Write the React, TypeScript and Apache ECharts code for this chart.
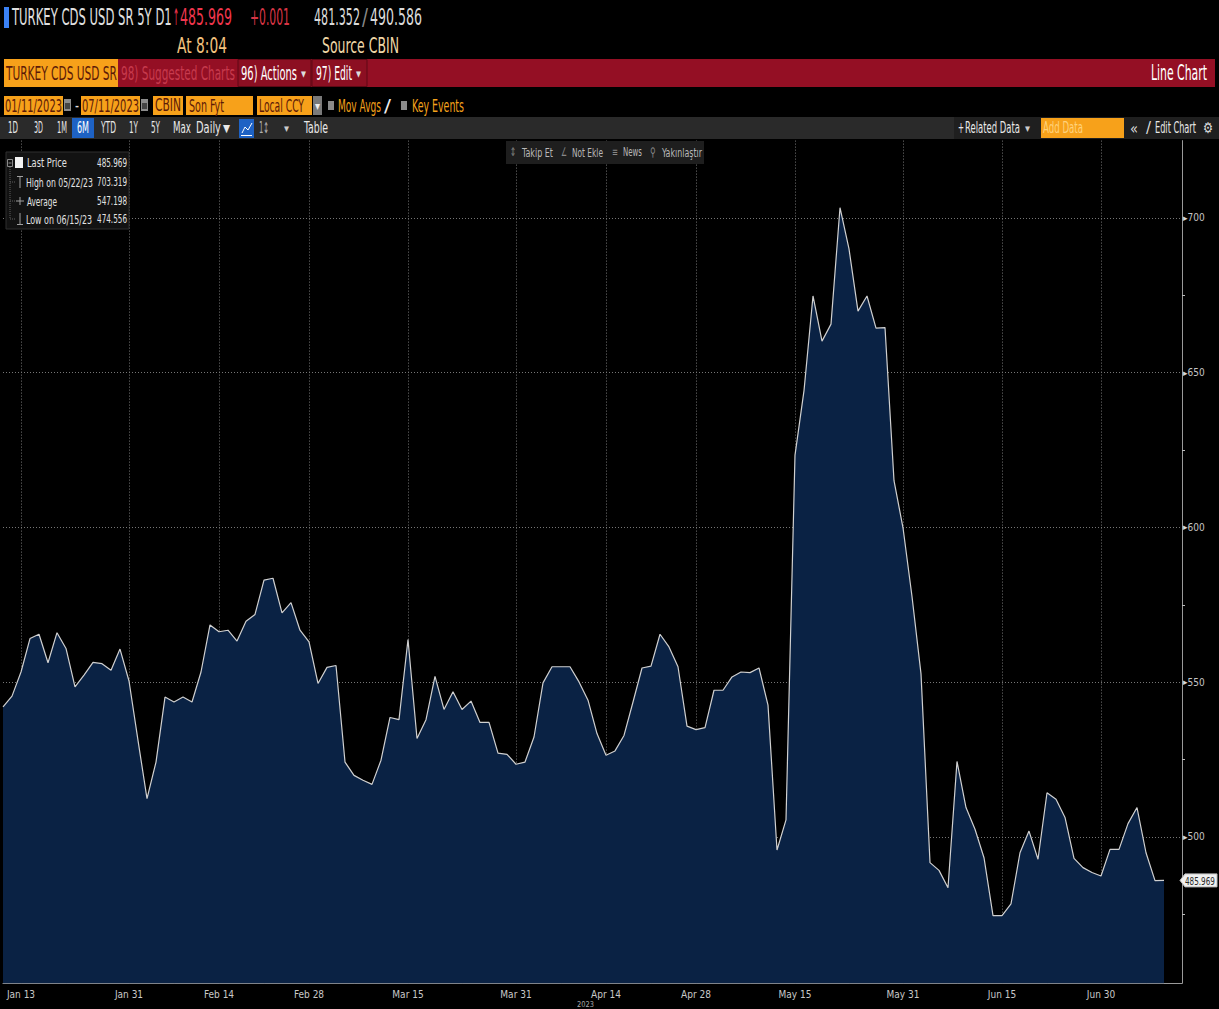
import React, { useEffect, useRef } from 'react';
import * as echarts from 'echarts';

// ---------- data ----------
const firstDate = '2023-01-11';
const lastDate = '2023-07-13'; // two trailing empty business days pad the axis to its right end

// Turkey CDS USD SR 5Y, daily closes (Jan 11 – Jul 11, 2023, business days)
const cdsValues = [
  542.0, 545.5, 553.3, 564.1, 565.5, 556.3, 566.0, 560.9, 548.5, 552.3,
  556.4, 556.0, 553.9, 560.7, 550.4, 531.2, 512.4, 524.2, 545.2, 543.6,
  545.2, 543.6, 553.3, 568.5, 566.3, 566.8, 563.3, 569.7, 571.9, 583.0,
  583.6, 572.4, 575.7, 566.8, 563.0, 549.6, 554.8, 555.4, 524.2, 519.9,
  518.3, 517.0, 524.8, 538.6, 537.9, 563.8, 531.8, 537.9, 551.9, 541.2,
  546.9, 541.2, 543.9, 537.0, 537.0, 527.1, 526.7, 523.5, 524.2, 532.3,
  549.8, 555.0, 555.0, 555.0, 550.1, 544.2, 533.4, 526.4, 527.8, 532.8,
  543.6, 554.6, 555.2, 565.5, 561.4, 555.0, 535.8, 534.7, 535.3, 547.4,
  547.4, 551.7, 553.3, 553.1, 554.6, 542.6, 495.8, 505.5, 623.4, 644.2,
  674.8, 660.2, 665.7, 703.319, 690.0, 669.9, 674.8, 664.4, 664.6, 615.1,
  599.9, 577.7, 552.7, 491.7, 489.2, 483.6, 524.4, 509.5, 502.5, 493.3,
  474.6, 474.556, 478.4, 494.9, 501.9, 492.8, 514.3, 512.2, 506.3, 493.1,
  490.1, 488.5, 487.4, 496.0, 496.0, 504.3, 509.5, 494.9, 485.9, 485.969,
];

const labelDates = [
  '2023-01-13', '2023-01-31', '2023-02-14', '2023-02-28', '2023-03-15', '2023-03-31',
  '2023-04-14', '2023-04-28', '2023-05-15', '2023-05-31', '2023-06-15', '2023-06-30',
];
const minorTickDates = [
  '2023-01-20', '2023-02-07', '2023-02-21', '2023-03-07', '2023-03-23', '2023-04-07',
  '2023-04-21', '2023-05-08', '2023-05-23', '2023-06-08', '2023-06-22', '2023-07-07',
];
const monthNames = ['Jan', 'Feb', 'Mar', 'Apr', 'May', 'Jun', 'Jul', 'Aug', 'Sep', 'Oct', 'Nov', 'Dec'];

const lastPrice = 485.969;
const legendRows = [
  { name: 'Last Price', value: '485.969' },
  { name: 'High on 05/22/23', value: '703.319' },
  { name: 'Average', value: '547.198' },
  { name: 'Low on 06/15/23', value: '474.556' },
];
const yMin = 452.75;
const yMax = 725;

// ---------- helpers ----------
function weekdays(start: string, end: string): string[] {
  const out: string[] = [];
  const d = new Date(start + 'T00:00:00Z');
  const e = new Date(end + 'T00:00:00Z');
  while (d <= e) {
    const w = d.getUTCDay();
    if (w !== 0 && w !== 6) out.push(d.toISOString().slice(0, 10));
    d.setUTCDate(d.getUTCDate() + 1);
  }
  return out;
}

const HF = "'Liberation Sans Narrow', 'DejaVu Sans Condensed', 'Liberation Sans', Arial, sans-serif";
const AF = "'Liberation Sans Narrow', 'DejaVu Sans Condensed', 'Liberation Sans', sans-serif";

let measureCtx: CanvasRenderingContext2D | null = null;
function measure(text: string, font: string): number {
  if (!measureCtx) measureCtx = document.createElement('canvas').getContext('2d');
  if (!measureCtx) return 0;
  measureCtx.font = font;
  return measureCtx.measureText(text).width;
}

function fit(text: string, x: number, y: number, w: number, size: number, color: string, align: string = 'left') {
  const mw = measure(text, `normal ${size}px ${HF}`);
  const sx = mw > 0 ? w / mw : 1;
  return {
    type: 'text', x, y, scaleX: sx, z: 120, silent: true,
    style: {
      text, fill: color, fontSize: size, fontFamily: HF,
      textAlign: align, textVerticalAlign: 'middle', align, verticalAlign: 'middle',
    },
  };
}
function rect(x: number, y: number, w: number, h: number, fill: string, stroke?: string, z = 110) {
  return { type: 'rect', z, silent: true, shape: { x, y, width: w, height: h }, style: { fill, stroke: stroke || null, lineWidth: stroke ? 1 : 0 } };
}
function line(x1: number, y1: number, x2: number, y2: number, stroke: string, dash?: number[]) {
  return { type: 'line', z: 125, silent: true, shape: { x1, y1, x2, y2 }, style: { stroke, lineWidth: 1, lineDash: dash || null } };
}

const ORANGE = '#f7a11a';
const BOXTXT = '#5c1a08';
const WHITE = '#e8e8e8';

function buildGraphics(lastY: number) {
  const g: any[] = [];
  // row 1
  g.push(rect(4, 7, 5, 21, '#3b82f6'));
  g.push(fit('TURKEY CDS USD SR 5Y D1', 12, 17, 160, 23, '#e0e0e0'));
  g.push(fit('↑', 173, 17, 6, 23, '#f0364d'));
  g.push(fit('485.969', 180, 17, 52, 23, '#f0364d'));
  g.push(fit('+0.001', 250, 17, 40, 23, '#d83545'));
  g.push(fit('481.352', 314, 17, 46, 23, '#dadada'));
  g.push(fit('/', 362, 17, 6, 23, '#8a8a8a'));
  g.push(fit('490.586', 370, 17, 52, 23, '#dadada'));
  // row 2
  g.push(fit('At 8:04', 177, 45, 50, 22, '#f2c27e'));
  g.push(fit('Source CBIN', 322, 45, 77, 22, '#efd6a6'));
  // red bar
  g.push(rect(4, 59, 1211, 28, '#940f24'));
  g.push(rect(4, 59, 114, 28, ORANGE));
  g.push(fit('TURKEY CDS USD SR', 6, 73, 111, 20, BOXTXT));
  g.push(fit('98) Suggested Charts', 121, 73, 114, 20, '#c73a4d'));
  g.push(rect(238, 59.5, 73, 27, '#8c0f22', '#5e0915'));
  g.push(rect(312, 59.5, 55, 27, '#8c0f22', '#5e0915'));
  g.push(fit('96) Actions', 241, 73, 56, 20, '#ffffff'));
  g.push(fit('▾', 301, 74, 5, 13, '#dddddd'));
  g.push(fit('97) Edit', 316, 73, 36, 20, '#ffffff'));
  g.push(fit('▾', 356, 74, 5, 13, '#dddddd'));
  g.push(fit('Line Chart', 1151, 73, 56, 21, '#ffffff'));
  // row 4 (date inputs)
  g.push(rect(4, 96, 59, 19, ORANGE));
  g.push(fit('01/11/2023', 5, 105.5, 57, 18, BOXTXT));
  g.push(rect(64, 99, 7, 12, '#8c8c8c'));
  g.push(rect(65, 103, 5, 6, '#444444', undefined, 111));
  g.push(fit('-', 75, 105.5, 4, 18, '#dddddd'));
  g.push(rect(81, 96, 59, 19, ORANGE));
  g.push(fit('07/11/2023', 82, 105.5, 57, 18, BOXTXT));
  g.push(rect(141, 99, 7, 12, '#8c8c8c'));
  g.push(rect(142, 103, 5, 6, '#444444', undefined, 111));
  g.push(rect(153, 96, 30, 19, ORANGE));
  g.push(fit('CBIN', 155, 105.5, 26, 18, BOXTXT));
  g.push(rect(186, 96, 67, 19, ORANGE));
  g.push(fit('Son Fyt', 189, 105.5, 35, 18, BOXTXT));
  g.push(rect(257, 96, 55, 19, ORANGE));
  g.push(fit('Local CCY', 259, 105.5, 45, 18, BOXTXT));
  g.push(rect(313, 96, 9, 19, '#7a7a7a'));
  g.push(fit('▾', 315, 106, 5, 12, '#eeeeee'));
  g.push(rect(328, 101, 6, 9, '#8a8a8a'));
  g.push(fit('Mov Avgs', 338, 105.5, 43, 18, '#f5a21b'));
  g.push(fit('/', 384, 105.5, 7, 18, '#eeeeee'));
  g.push(rect(401, 101, 6, 9, '#8a8a8a'));
  g.push(fit('Key Events', 412, 105.5, 52, 18, '#f5a21b'));
  // toolbar
  g.push(rect(0, 117, 1219, 22, '#2a2a2a'));
  g.push(rect(954, 117, 265, 22, '#1f1f1f'));
  g.push(fit('1D', 8, 128, 10, 15, WHITE));
  g.push(fit('3D', 34, 128, 9, 15, WHITE));
  g.push(fit('1M', 57, 128, 10, 15, WHITE));
  g.push(rect(72, 118, 22, 20, '#1e62c4'));
  g.push(fit('6M', 77, 128, 12, 15, '#ffffff'));
  g.push(fit('YTD', 101, 128, 15, 15, WHITE));
  g.push(fit('1Y', 129, 128, 9, 15, WHITE));
  g.push(fit('5Y', 151, 128, 9, 15, WHITE));
  g.push(fit('Max', 173, 128, 18, 15, WHITE));
  g.push(fit('Daily', 196, 128, 25, 15, WHITE));
  g.push(fit('▼', 223, 128, 7, 11, WHITE));
  g.push(rect(239, 119, 15, 19, '#1e62c4'));
  g.push({ type: 'polyline', z: 125, silent: true, shape: { points: [[242, 133], [245, 127], [248, 130], [252, 123]] }, style: { stroke: '#ffffff', lineWidth: 1, fill: null } });
  g.push(line(241, 135.5, 252, 135.5, '#ffffff'));
  g.push(fit('1↕', 259, 128, 10, 15, '#b0b0b0'));
  g.push(fit('▾', 284, 129, 5, 11, '#cccccc'));
  g.push(fit('Table', 304, 128, 24, 15, WHITE));
  g.push(fit('+', 958, 128, 6, 15, WHITE));
  g.push(fit('Related Data', 965, 128, 55, 15, WHITE));
  g.push(fit('▾', 1025, 129, 5, 11, '#cccccc'));
  g.push(rect(1041, 118, 83, 20, ORANGE));
  g.push(fit('Add Data', 1043, 128, 40, 15, '#ffd27a'));
  g.push(fit('«', 1130, 128, 8, 15, '#dddddd'));
  g.push(fit('/', 1146, 128, 5, 15, '#dddddd'));
  g.push(fit('Edit Chart', 1155, 128, 41, 15, WHITE));
  g.push(fit('⚙', 1203, 128, 10, 15, '#dddddd'));
  // legend box
  g.push(rect(6, 152, 123, 77, '#121212', '#2e2e2e'));
  const rowsY = [163, 182, 201, 219];
  const nameW = [40, 67, 30, 66];
  g.push(rect(7.5, 159.5, 5, 7, 'none', '#8a8a8a', 121));
  g.push(line(8.5, 163, 11.5, 163, '#8a8a8a'));
  g.push(rect(15, 157, 8, 11, '#f4f4f4', undefined, 121));
  g.push(line(10, 167, 10, 219, '#5e5e5e', [1, 1]));
  g.push(line(10, 182, 15, 182, '#5e5e5e', [1, 1]));
  g.push(line(10, 201, 15, 201, '#5e5e5e', [1, 1]));
  g.push(line(10, 219, 15, 219, '#5e5e5e', [1, 1]));
  g.push(line(17, 176.5, 23, 176.5, '#a0a0a0'));
  g.push(line(20, 176.5, 20, 188, '#a0a0a0'));
  g.push(line(16, 201, 24, 201, '#a0a0a0'));
  g.push(line(20, 197, 20, 205, '#a0a0a0'));
  g.push(line(20, 213, 20, 224.5, '#a0a0a0'));
  g.push(line(17, 224.5, 23, 224.5, '#a0a0a0'));
  legendRows.forEach((r, i) => {
    g.push(fit(r.name, i === 0 || i === 2 ? 27 : 26, rowsY[i], nameW[i], 12, '#e2e2e2'));
    g.push(fit(r.value, 127, rowsY[i], 30, 12, '#e2e2e2', 'right'));
  });
  // floating tool box
  g.push(rect(506, 141, 198, 23, '#1e1e1e'));
  g.push(fit('⇕', 510, 152, 6, 12, '#888888'));
  g.push(fit('Takip Et', 522, 152, 31, 12, '#b8b8b8'));
  g.push(fit('∠', 561, 152, 6, 12, '#888888'));
  g.push(fit('Not Ekle', 572, 152, 31, 12, '#b8b8b8'));
  g.push(fit('≡', 612, 152, 6, 12, '#888888'));
  g.push(fit('News', 623, 152, 19, 12, '#b8b8b8'));
  g.push(fit('⚲', 650, 152, 6, 12, '#888888'));
  g.push(fit('Yakınlaştır', 662, 152, 40, 12, '#b8b8b8'));
  // year under axis
  g.push(fit('2023', 577, 1004.5, 17, 8, '#a8a8a8'));
  // last price tag on the value axis
  if (isFinite(lastY)) {
    g.push({
      type: 'polygon', z: 115, silent: true,
      shape: { points: [[1180, lastY], [1185, lastY - 6.5], [1217, lastY - 6.5], [1217, lastY + 6.5], [1185, lastY + 6.5]] },
      style: { fill: '#f0f0f0', stroke: '#bdbdbd', lineWidth: 1 },
    });
    g.push(fit(String(lastPrice), 1185, lastY + 0.5, 30, 11, '#2a2a2a'));
  }
  return g;
}

export default function App() {
  const ref = useRef<HTMLDivElement>(null);
  useEffect(() => {
    if (!ref.current) return;
    const chart = echarts.init(ref.current, null, { renderer: 'svg' });
    const categories = weekdays(firstDate, lastDate);
    const seriesData: (number | null)[] = categories.map((_, i) => (i < cdsValues.length ? cdsValues[i] : null));
    const labelSet = new Set(labelDates);
    const tickSet = new Set([...labelDates, ...minorTickDates]);
    const fmtDate = (v: string) => {
      const m = parseInt(v.slice(5, 7), 10);
      const d = parseInt(v.slice(8, 10), 10);
      return `${monthNames[m - 1]} ${d}`;
    };
    const gridDash = [1, 2];
    const option: any = {
      animation: false,
      backgroundColor: '#000000',
      grid: { left: 3, right: 37, top: 140.6, bottom: 25.8, containLabel: false, outerBoundsMode: 'none' },
      xAxis: {
        type: 'category',
        data: categories,
        boundaryGap: false,
        axisLine: { show: true, lineStyle: { color: '#9a9a9a', width: 1 } },
        axisTick: { show: true, inside: true, length: 6, interval: (_i: number, v: string) => tickSet.has(v), lineStyle: { color: '#8a8a8a' } },
        axisLabel: {
          show: true,
          interval: (_i: number, v: string) => labelSet.has(v),
          formatter: fmtDate,
          color: '#c8c8c8', fontSize: 10, fontFamily: AF, margin: 6,
        },
        splitLine: { show: true, interval: (_i: number, v: string) => labelSet.has(v), lineStyle: { color: '#767676', type: gridDash, width: 1 } },
      },
      yAxis: {
        type: 'value',
        position: 'right',
        min: yMin,
        max: yMax,
        splitNumber: 5,
        axisLine: { show: true, lineStyle: { color: '#9a9a9a', width: 1 } },
        axisTick: { show: false },
        minorTick: { show: true, splitNumber: 2, length: 3, lineStyle: { color: '#bdbdbd' } },
        splitLine: { show: true, showMinLine: false, showMaxLine: false, lineStyle: { color: '#767676', type: gridDash, width: 1 } },
        axisLabel: {
          show: true, showMinLabel: false, showMaxLabel: false, margin: 1,
          formatter: (v: number) => `{t|▸}{v|${v}}`,
          rich: {
            t: { color: '#d8d8d8', fontSize: 9, fontFamily: 'DejaVu Sans' },
            v: { color: '#c4c4c4', fontSize: 10, fontFamily: AF },
          },
        },
      },
      series: [
        {
          type: 'line',
          data: seriesData,
          showSymbol: false,
          symbol: 'none',
          silent: true,
          lineStyle: { color: '#d0d0d0', width: 1.2 },
          areaStyle: { color: '#0a2244', opacity: 1, origin: 'start' },
        },
      ],
    };
    chart.setOption(option);
    const lastY = chart.convertToPixel({ yAxisIndex: 0 }, lastPrice) as number;
    chart.setOption({ graphic: { elements: buildGraphics(lastY) } });
    return () => chart.dispose();
  }, []);
  return <div ref={ref} style={{ position: 'absolute', left: 0, top: 0, width: 1219, height: 1009, background: '#000' }} />;
}
